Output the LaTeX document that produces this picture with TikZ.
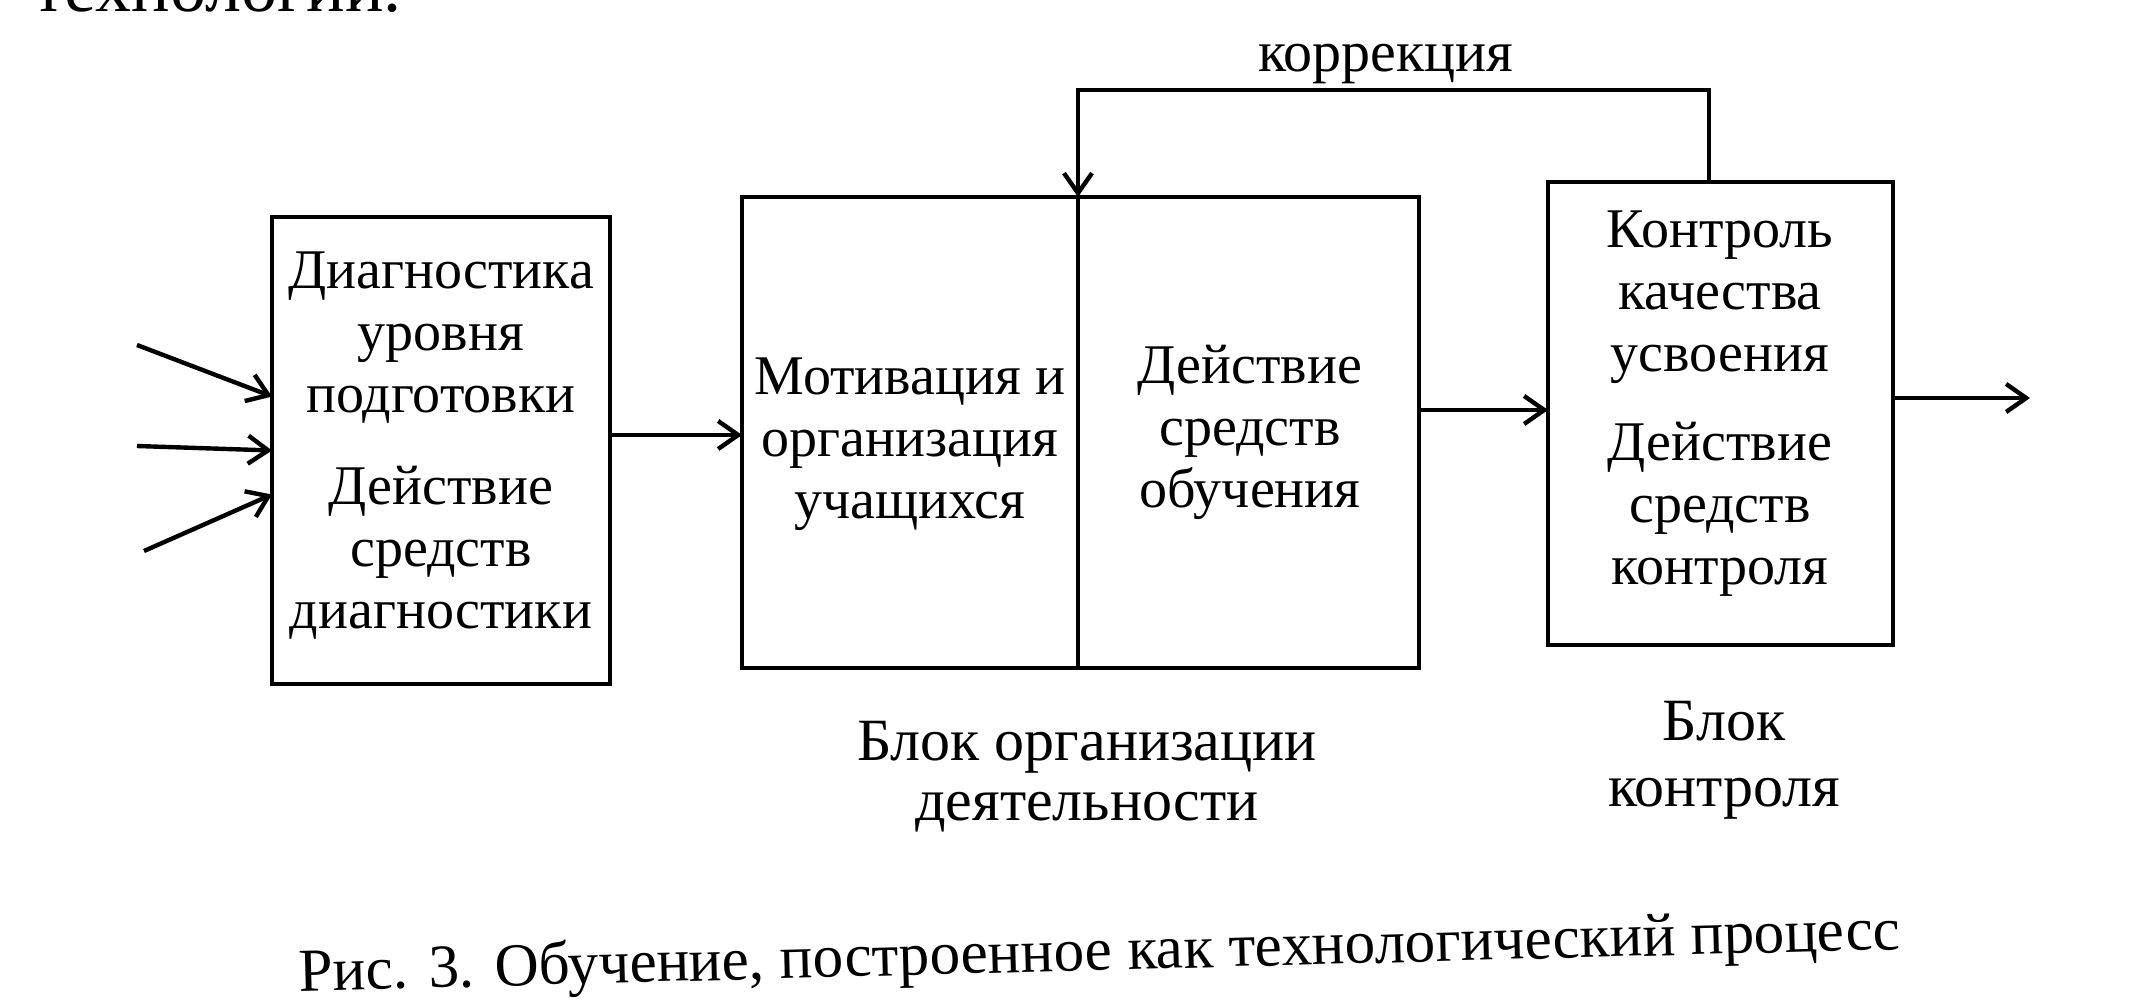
\documentclass[tikz,border=0pt]{standalone}
\usepackage{fontspec}
\setmainfont{Liberation Serif}
\usetikzlibrary{arrows.meta}
\begin{document}
\begin{tikzpicture}[x=0.25pt,y=-0.25pt,
  line width=1.1pt,
  box/.style={draw, line width=1.1pt, inner sep=0pt, outer sep=0pt},
  txt/.style={align=center, font=\fontsize{14}{15.5}\selectfont, inner sep=0pt},
  lbl/.style={align=center, font=\fontsize{15}{15}\selectfont, inner sep=0pt},
  arr/.style={-{Straight Barb[length=5pt,width=7pt]}, line width=1.1pt},
]
\useasboundingbox (0,0) rectangle (2156,1005);

% fragment of preceding text line
\node[anchor=base west, font=\fontsize{18}{20}\selectfont, inner sep=0pt] (frag) at (31,12) {технологии.};

% boxes
\node[box, minimum width=84.5pt, minimum height=116.75pt] (b1) at (441,450.5) {};
\node[box, minimum width=84pt, minimum height=117.75pt] (b2l) at (910,432.5) {};
\node[box, minimum width=85.25pt, minimum height=117.75pt] (b2r) at (1248.5,432.5) {};
\node[box, minimum width=86.25pt, minimum height=115.75pt] (b3) at (1720.5,413.5) {};

% texts
\node[txt] (t1a) at (441,338) {Диагностика\\уровня\\подготовки};
\node[txt] (t1b) at (441,553) {Действие\\средств\\диагностики};
\node[txt] (t2a) at (910,444) {Мотивация и\\организация\\учащихся};
\node[txt] (t2b) at (1250,432) {Действие\\средств\\обучения};
\node[txt] (t3a) at (1720,297) {Контроль\\качества\\усвоения};
\node[txt] (t3b) at (1720,509) {Действие\\средств\\контроля};

\node[font=\fontsize{14.5}{15}\selectfont, inner sep=0pt] (korr) at (1386,64) {коррекция};
\node[lbl] (blk1) at (1087,777) {Блок организации\\деятельности};
\node[lbl, font=\fontsize{15}{16.5}\selectfont] (blk2) at (1724,760) {Блок\\контроля};
\node[font=\fontsize{15.3}{17}\selectfont, inner sep=0pt, rotate=1.5] (cap) at (1100,955) {Рис. 3. Обучение, построенное как технологический процесс};

% inputs
\coordinate (in1) at (137,345);
\coordinate (in2) at (137,446);
\coordinate (in3) at (144,551);
\draw[arr] (in1) -- ([yshift=13.5pt]b1.west);
\draw[arr] (in2) -- (b1.west);
\draw[arr] (in3) -- ([yshift=-11pt]b1.west);

% links
\draw[arr] (b1.east |- 0,435) -- (b2l.west |- 0,435);
\draw[arr] (b2r.east |- 0,410) -- (b3.west |- 0,410);
\coordinate (out) at (2030,398);
\draw[arr] (b3.east |- out) -- (out);

% feedback
\coordinate (fbR) at (1709,90);
\coordinate (fbL) at (b2l.north east |- fbR);
\draw[arr] (b3.north -| fbR) -- (fbR) -- (fbL) -- (b2l.north east);
\end{tikzpicture}
\end{document}
